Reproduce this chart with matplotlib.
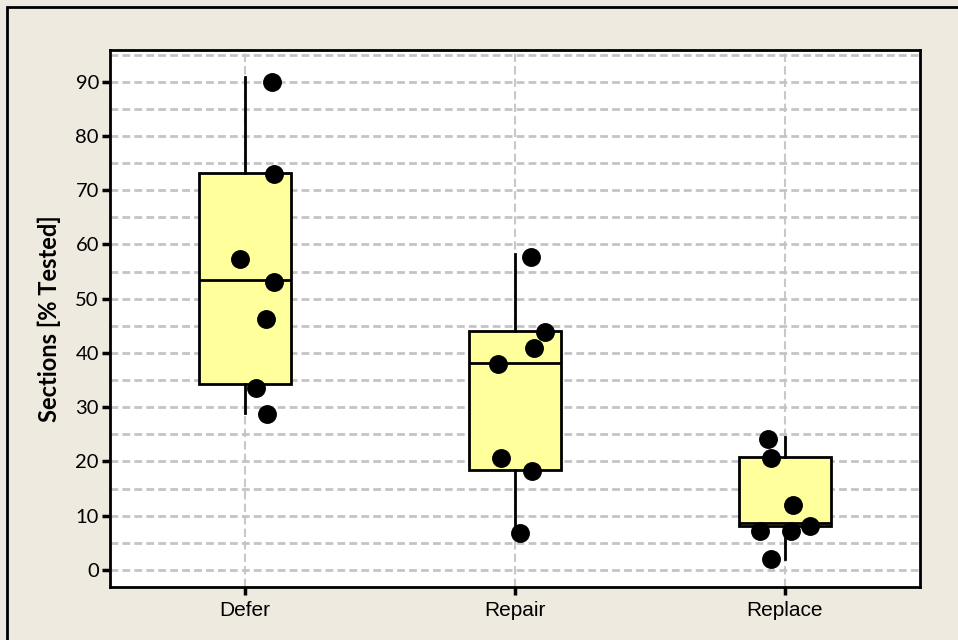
import numpy as np
import matplotlib
matplotlib.use('Agg')
import matplotlib.pyplot as plt
from matplotlib.patches import Rectangle

# categories and raw points (value, horizontal jitter)
categories = ['Defer', 'Repair', 'Replace']
defer_vals = [90.0, 72.9, 57.3, 53.0, 46.3, 33.5, 28.7]
defer_jit = [0.101, 0.109, -0.02, 0.109, 0.078, 0.042, 0.083]
repair_vals = [57.7, 43.8, 40.9, 38.0, 20.6, 18.3, 6.8]
repair_jit = [0.058, 0.11, 0.069, -0.063, -0.053, 0.064, 0.017]
replace_vals = [24.1, 20.6, 11.9, 8.2, 7.1, 7.1, 2.0]
replace_jit = [-0.062, -0.052, 0.031, 0.094, -0.091, 0.022, -0.052]

# box statistics
q1 = [34.2, 18.5, 8.2]
med = [53.4, 38.2, 8.6]
q3 = [73.2, 44.1, 20.9]
whislo = [28.9, 7.5, 2.1]
whishi = [90.8, 58.2, 24.5]

bg = '#EEEAE0'
fig = plt.figure(figsize=(9.58, 6.4), dpi=100, facecolor=bg)
# figure border (top/left visible)
fig.patches.append(Rectangle((7/958, -0.1), 1.2, (640-7)/640 + 0.1, transform=fig.transFigure,
                             fill=False, edgecolor='black', linewidth=2, zorder=0))

ax = fig.add_axes([110/958, 1-587/640, (920-110)/958, (587-50)/640])
ax.set_facecolor('white')

stats = []
for i in range(3):
    stats.append(dict(q1=q1[i], med=med[i], q3=q3[i], whislo=whislo[i], whishi=whishi[i], fliers=[]))
ax.bxp(stats, positions=[1, 2, 3], widths=0.34, patch_artist=True, showcaps=False,
       boxprops=dict(facecolor='#FFFF9C', edgecolor='black', linewidth=2.0),
       medianprops=dict(color='black', linewidth=2.0),
       whiskerprops=dict(color='black', linewidth=2.0), zorder=3)

all_vals = [defer_vals, repair_vals, replace_vals]
all_jit = [defer_jit, repair_jit, replace_jit]
for i in range(3):
    xs = np.array(all_jit[i]) + i + 1
    ax.scatter(xs, all_vals[i], s=185, color='black', zorder=5, linewidths=0)

ax.set_xlim(0.5, 3.5)
ax.set_ylim(-3.13, 95.84)
ax.set_yticks(np.arange(0, 91, 10))
ax.set_yticks(np.arange(5, 96, 10), minor=True)
ax.set_xticks([1, 2, 3])
ax.set_xticklabels(categories, fontsize=15, family='Liberation Sans')
for lab in ax.get_yticklabels():
    lab.set_fontfamily('Lato')
    lab.set_fontsize(14.5)
ax.tick_params(axis='y', which='major', length=6, width=2.5, direction='out', pad=2)
ax.tick_params(axis='y', which='minor', length=0)
ax.tick_params(axis='x', length=6, width=2.5, direction='out', pad=4)

ax.grid(True, axis='y', which='both', color='#C4C4C4', linestyle=(0, (2.8, 1.5)), linewidth=2, zorder=0)
ax.grid(True, axis='x', which='major', color='#C8C8C8', linestyle=(0, (4, 2)), linewidth=1.5, zorder=0)
ax.set_axisbelow(True)

for s in ax.spines.values():
    s.set_linewidth(2)
    s.set_color('black')

ax.set_ylabel('Sections [% Tested]', fontsize=17, fontweight='bold', family='Lato')
ax.yaxis.set_label_coords((61-110)/810, 0.5)

fig.savefig('out.png', dpi=100, facecolor=bg)
